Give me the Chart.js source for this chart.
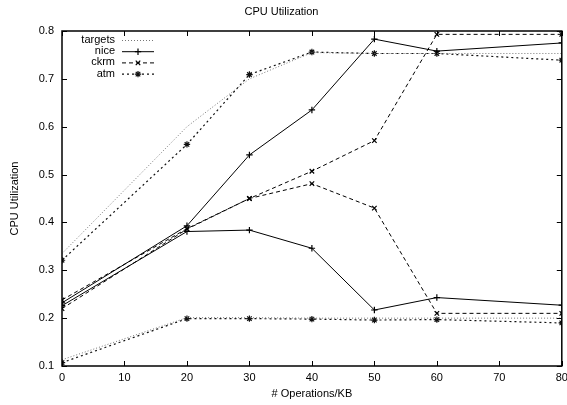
<!DOCTYPE html>
<html>
<head>
<meta charset="utf-8">
<script src="https://cdn.jsdelivr.net/npm/chart.js@4/dist/chart.umd.min.js"></script>
<style>
  html, body { margin: 0; padding: 0; background: #fff; }
  #wrap { width: 567px; height: 405px; }
</style>
</head>
<body>
<div id="wrap"><canvas id="grafica"></canvas></div>
<script>
// valores
const opsPorKB = [0, 20, 30, 40, 50, 60, 80];
const ticksX = [0, 10, 20, 30, 40, 50, 60, 70, 80];
const ticksY = [0.1, 0.2, 0.3, 0.4, 0.5, 0.6, 0.7, 0.8];

const targetsAlto = [0.335, 0.60, 0.70, 0.755, 0.753, 0.753, 0.753];
const targetsBajo = [0.113, 0.201, 0.201, 0.200, 0.200, 0.200, 0.200];
const niceAlto = [0.232, 0.393, 0.541, 0.635, 0.783, 0.758, 0.775];
const niceBajo = [0.226, 0.381, 0.384, 0.346, 0.217, 0.243, 0.227];
const ckrmAlto = [0.238, 0.387, 0.450, 0.507, 0.571, 0.793, 0.793];
const ckrmBajo = [0.220, 0.386, 0.450, 0.481, 0.430, 0.210, 0.210];
const atmAlto = [0.321, 0.563, 0.709, 0.756, 0.753, 0.753, 0.739];
const atmBajo = [0.107, 0.199, 0.199, 0.198, 0.196, 0.197, 0.190];

const fuente = '"Liberation Sans", Arial, sans-serif';

const estilos = {
  targets: { color: '#777', dash: [1, 2], punto: false, ancho: 1 },
  nice: { color: '#000', dash: [], punto: 'cross', ancho: 1 },
  ckrm: { color: '#000', dash: [4, 3], punto: 'crossRot', ancho: 1 },
  atm: { color: '#111', dash: [2, 3], punto: 'star', ancho: 1.2 },
};

function serie(nombre, valores) {
  const e = estilos[nombre];
  return {
    label: nombre,
    data: opsPorKB.map((x, i) => ({ x, y: valores[i] })),
    borderColor: e.color,
    backgroundColor: e.color,
    borderWidth: e.ancho,
    borderDash: e.dash,
    pointStyle: e.punto,
    pointRadius: e.punto ? 3.2 : 0,
    pointBorderWidth: 1.2,
    tension: 0,
    fill: false,
  };
}

// leyenda estilo gnuplot dentro del area del grafico
const leyendaGnuplot = {
  id: 'leyendaGnuplot',
  afterDraw(chart) {
    const ctx = chart.ctx;
    const nombres = ['targets', 'nice', 'ckrm', 'atm'];
    const xTexto = 115, x0 = 122, x1 = 154;
    ctx.save();
    ctx.font = '11px ' + fuente;
    ctx.textAlign = 'right';
    ctx.textBaseline = 'middle';
    nombres.forEach((n, i) => {
      const y = 40 + i * 11.2;
      const e = estilos[n];
      ctx.fillStyle = '#000';
      ctx.fillText(n, xTexto, y);
      ctx.strokeStyle = e.color;
      ctx.lineWidth = e.ancho;
      ctx.setLineDash(e.dash);
      ctx.beginPath();
      ctx.moveTo(x0, y + 0.5);
      ctx.lineTo(x1, y + 0.5);
      ctx.stroke();
      ctx.setLineDash([]);
      if (e.punto) {
        ctx.lineWidth = 1.2;
        Chart.helpers.drawPoint(ctx, { pointStyle: e.punto, radius: 3.2, borderWidth: 1.2 }, (x0 + x1) / 2, y + 0.5);
      }
    });
    ctx.restore();
  }
};

// marco y marcas hacia adentro como en gnuplot
const marcoGnuplot = {
  id: 'marcoGnuplot',
  afterDatasetsDraw(chart) {
    const { ctx, chartArea: a, scales } = chart;
    ctx.save();
    ctx.strokeStyle = '#000';
    ctx.lineWidth = 1.5;
    ctx.strokeRect(a.left, a.top, a.right - a.left, a.bottom - a.top);
    ctx.lineWidth = 1;
    ctx.beginPath();
    ticksX.forEach(v => {
      const px = Math.round(scales.x.getPixelForValue(v)) + 0.5;
      ctx.moveTo(px, a.bottom); ctx.lineTo(px, a.bottom - 5);
      ctx.moveTo(px, a.top); ctx.lineTo(px, a.top + 5);
    });
    ticksY.forEach(v => {
      const py = Math.round(scales.y.getPixelForValue(v)) + 0.5;
      ctx.moveTo(a.left, py); ctx.lineTo(a.left + 5, py);
      ctx.moveTo(a.right, py); ctx.lineTo(a.right - 5, py);
    });
    ctx.stroke();
    ctx.restore();
  }
};

const ctx = document.getElementById('grafica').getContext('2d');
new Chart(ctx, {
  type: 'line',
  data: {
    datasets: [
      serie('targets', targetsAlto),
      serie('targets', targetsBajo),
      serie('nice', niceAlto),
      serie('nice', niceBajo),
      serie('ckrm', ckrmAlto),
      serie('ckrm', ckrmBajo),
      serie('atm', atmAlto),
      serie('atm', atmBajo),
    ],
  },
  options: {
    responsive: true,
    maintainAspectRatio: false,
    animation: false,
    layout: { padding: { left: 0, right: 4, top: 0, bottom: 0 } },
    plugins: {
      legend: { display: false },
      tooltip: { enabled: false },
      title: {
        display: true,
        text: 'CPU Utilization',
        color: '#000',
        font: { family: fuente, size: 11, weight: 'normal' },
        padding: { top: 5, bottom: 12.8 },
      },
    },
    scales: {
      x: {
        type: 'linear',
        min: 0,
        max: 80,
        afterBuildTicks: s => { s.ticks = ticksX.map(v => ({ value: v })); },
        ticks: { color: '#000', font: { family: fuente, size: 11 }, padding: 5, maxRotation: 0 },
        grid: { display: false, drawTicks: false },
        border: { display: false },
        title: { display: true, text: '# Operations/KB', color: '#000', font: { family: fuente, size: 11 }, padding: { top: 4 } },
        afterFit: s => { s.height = 39; s.paddingLeft = 0; s.paddingRight = 0; },
      },
      y: {
        min: 0.1,
        max: 0.8,
        afterBuildTicks: s => { s.ticks = ticksY.map(v => ({ value: v })); },
        ticks: { color: '#000', font: { family: fuente, size: 11 }, padding: 8, callback: v => v.toFixed(1) },
        grid: { display: false, drawTicks: false },
        border: { display: false },
        title: { display: true, text: 'CPU Utilization', color: '#000', font: { family: fuente, size: 11 }, padding: { top: 8, bottom: 0 } },
        afterFit: s => { s.width = 62; },
      },
    },
  },
  plugins: [marcoGnuplot, leyendaGnuplot],
});
</script>
</body>
</html>
